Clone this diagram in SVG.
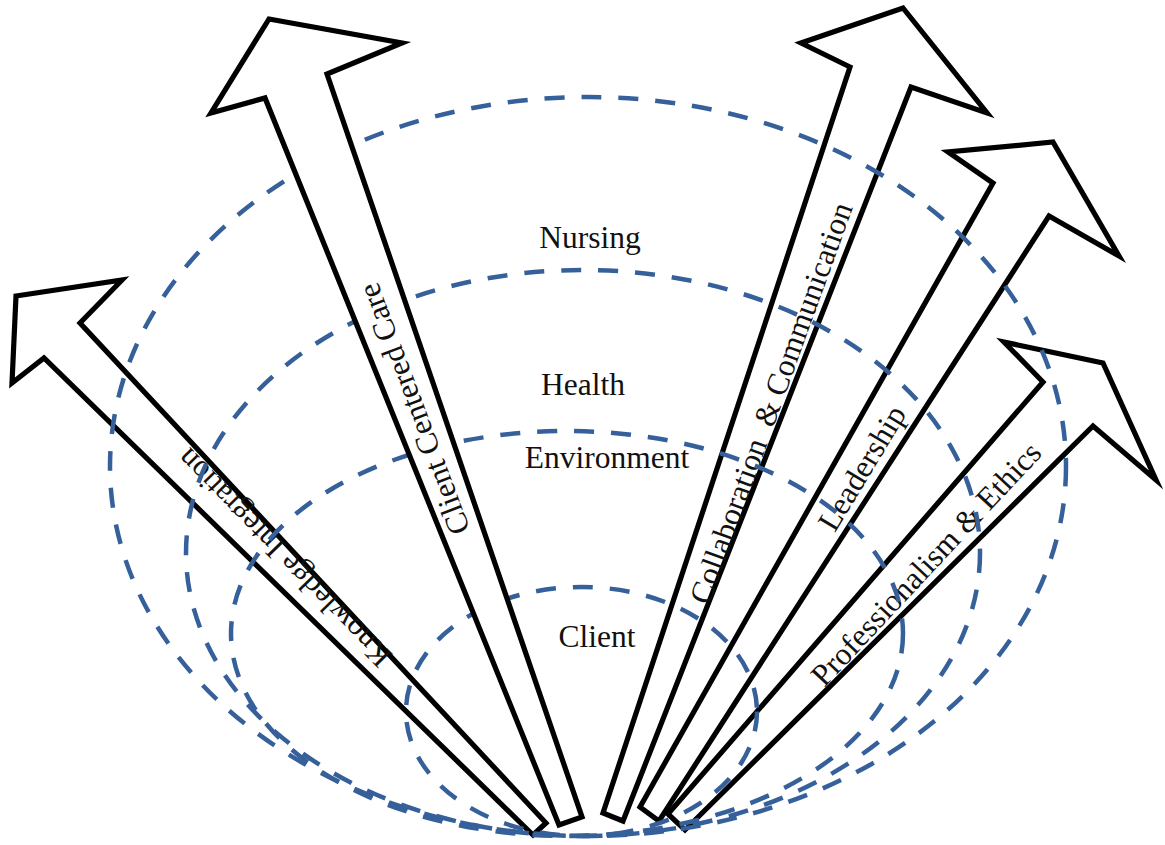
<svg xmlns="http://www.w3.org/2000/svg" width="1165" height="845" viewBox="0 0 1165 845">
<style>
.arrow{fill:#ffffff;stroke:#000000;stroke-width:5.2;stroke-linejoin:miter;stroke-miterlimit:10}
.ring{fill:none;stroke:#36609a;stroke-width:4.5;stroke-dasharray:20 17}
.lbl{font-family:"Liberation Serif","Times New Roman",serif;font-size:31.5px;fill:#111111;text-anchor:middle}
.albl{font-family:"Liberation Serif","Times New Roman",serif;font-size:31.5px;fill:#111111;text-anchor:middle;dominant-baseline:central}
</style>
<rect width="1165" height="845" fill="#ffffff"/>
<g id="arrow-knowledge">
<polygon class="arrow" points="16,296 122,280 80,323 546,823 533,835 44,358 12,383"/>
<text class="albl" transform="translate(284,558) rotate(-134.4)">Knowledge Integration</text>
</g>
<g id="arrow-collaboration">
<polygon class="arrow" points="903,8 987,113 911,87 623,821 603,813 850,67 801,43"/>
<text class="albl" xml:space="preserve" transform="translate(771,403) rotate(-70.1)">Collaboration  &amp; Communication</text>
</g>
<g id="arrow-leadership">
<polygon class="arrow" points="1053,142 1119,256 1049,216 659,821 640,807 993,183 948,152"/>
<text class="albl" transform="translate(862,468) rotate(-58.85)">Leadership</text>
</g>
<g id="arrow-professionalism">
<polygon class="arrow" points="1103,363 1156,480 1093,426 685,830 668,814 1043,382 1004,342"/>
<text class="albl" transform="translate(926,564) rotate(-46.9)">Professionalism &amp; Ethics</text>
</g>
<g id="rings">
<ellipse id="ring-nursing" class="ring" cx="588" cy="466.5" rx="478" ry="369.5"/>
<ellipse id="ring-health" class="ring" cx="583" cy="553" rx="397" ry="283"/>
<ellipse id="ring-environment" class="ring" cx="567" cy="633.5" rx="336" ry="202.5"/>
<ellipse id="ring-client" class="ring" cx="581.5" cy="711.5" rx="175.5" ry="124.5"/>
</g>
<g id="arrow-client-centered">
<polygon class="arrow" points="269,19 402,43 327,74 582,817 559,825 265,98 211,113"/>
<text class="albl" transform="translate(414,409) rotate(-110.5)">Client Centered Care</text>
</g>
<g id="labels">
<text class="lbl" x="590" y="248">Nursing</text>
<text class="lbl" x="583" y="395">Health</text>
<text class="lbl" x="607" y="468">Environment</text>
<text class="lbl" x="597" y="647">Client</text>
</g>
</svg>
